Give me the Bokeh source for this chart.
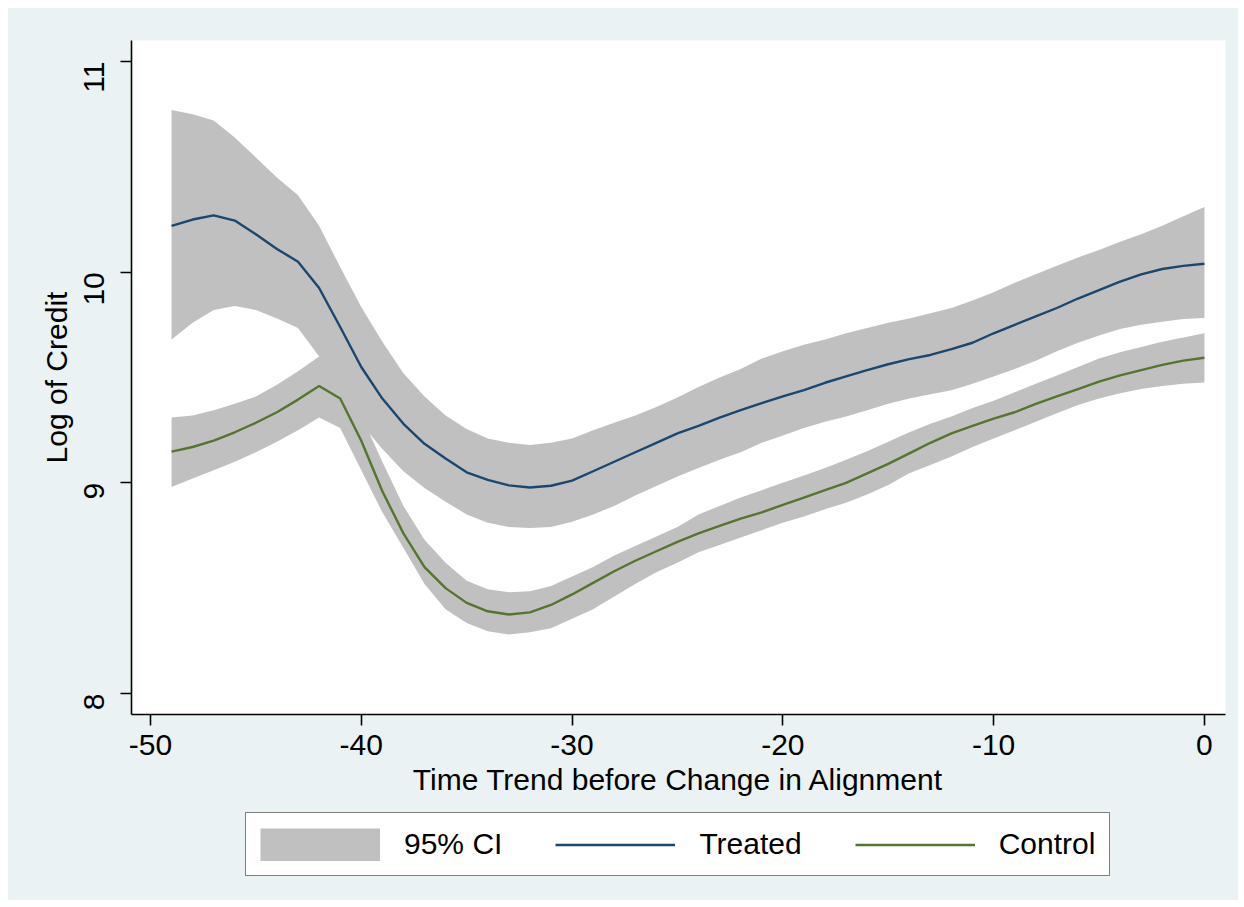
from bokeh.plotting import figure
from bokeh.models import Legend, LegendItem, FixedTicker, ColumnDataSource, Range1d
from bokeh.layouts import column
from bokeh.embed import file_html
from bokeh.resources import INLINE
import math

time = list(range(-49, 1))

treated = [10.22, 10.25, 10.27, 10.245, 10.18, 10.11, 10.05, 9.925, 9.74, 9.55,
           9.40, 9.28, 9.185, 9.115, 9.05, 9.014, 8.988, 8.978, 8.986, 9.01,
           9.055, 9.10, 9.145, 9.19, 9.235, 9.27, 9.31, 9.345, 9.378, 9.41,
           9.44, 9.475, 9.505, 9.535, 9.563, 9.587, 9.607, 9.635, 9.665, 9.71,
           9.75, 9.79, 9.83, 9.875, 9.915, 9.955, 9.99, 10.015, 10.03, 10.04]
treated_hi = [10.77, 10.75, 10.72, 10.64, 10.545, 10.45, 10.365, 10.22, 10.025, 9.835,
              9.67, 9.52, 9.41, 9.32, 9.255, 9.21, 9.19, 9.18, 9.19, 9.21,
              9.25, 9.285, 9.32, 9.36, 9.405, 9.455, 9.50, 9.54, 9.59, 9.625,
              9.655, 9.68, 9.71, 9.735, 9.76, 9.78, 9.805, 9.83, 9.865, 9.905,
              9.95, 9.99, 10.03, 10.07, 10.105, 10.145, 10.18, 10.22, 10.265, 10.31]
treated_lo = [9.68, 9.76, 9.82, 9.84, 9.82, 9.78, 9.735, 9.60, 9.44, 9.28,
              9.16, 9.055, 8.975, 8.91, 8.85, 8.81, 8.79, 8.785, 8.79, 8.815,
              8.85, 8.89, 8.94, 8.985, 9.03, 9.07, 9.11, 9.145, 9.19, 9.225,
              9.26, 9.29, 9.315, 9.345, 9.375, 9.40, 9.42, 9.44, 9.47, 9.505,
              9.54, 9.58, 9.625, 9.665, 9.70, 9.73, 9.75, 9.765, 9.778, 9.783]

control = [9.148, 9.17, 9.20, 9.24, 9.285, 9.335, 9.395, 9.46, 9.40, 9.20,
           8.96, 8.76, 8.60, 8.50, 8.43, 8.39, 8.375, 8.385, 8.42, 8.47,
           8.525, 8.58, 8.63, 8.675, 8.72, 8.76, 8.795, 8.83, 8.86, 8.895,
           8.93, 8.965, 9.00, 9.045, 9.09, 9.14, 9.19, 9.235, 9.27, 9.305,
           9.335, 9.375, 9.41, 9.445, 9.48, 9.51, 9.535, 9.56, 9.58, 9.594]
control_hi = [9.31, 9.32, 9.345, 9.375, 9.41, 9.465, 9.53, 9.60, 9.52, 9.32,
              9.10, 8.89, 8.73, 8.62, 8.535, 8.495, 8.48, 8.485, 8.51, 8.555,
              8.60, 8.655, 8.70, 8.745, 8.79, 8.85, 8.89, 8.93, 8.965, 9.00,
              9.035, 9.07, 9.11, 9.15, 9.195, 9.24, 9.28, 9.315, 9.355, 9.39,
              9.43, 9.47, 9.51, 9.55, 9.59, 9.62, 9.645, 9.67, 9.69, 9.71]
control_lo = [8.98, 9.02, 9.06, 9.10, 9.145, 9.195, 9.25, 9.31, 9.26, 9.06,
              8.86, 8.69, 8.52, 8.40, 8.335, 8.295, 8.28, 8.29, 8.31, 8.355,
              8.40, 8.46, 8.52, 8.575, 8.62, 8.67, 8.705, 8.74, 8.775, 8.81,
              8.84, 8.875, 8.905, 8.945, 8.99, 9.045, 9.085, 9.125, 9.17, 9.21,
              9.25, 9.29, 9.33, 9.37, 9.40, 9.425, 9.445, 9.46, 9.47, 9.476]

x_ticks = [-50, -40, -30, -20, -10, 0]
y_ticks = [8, 9, 10, 11]
legend_labels = ["95% CI", "Treated", "Control"]

src = ColumnDataSource(dict(t=time, tr=treated, trh=treated_hi, trl=treated_lo,
                            co=control, coh=control_hi, col=control_lo))

FONT = "Liberation Sans"
BG = "#EAF2F3"
NAVY = "#1A476F"
GREEN = "#55752F"
CI = "#C0C0C0"

# ---- main chart ----
p = figure(frame_width=1094, frame_height=674, output_backend="svg",
           toolbar_location=None,
           x_range=(-50.9, 1.0), y_range=(7.9, 11.1),
           min_border_left=123, min_border_right=13, min_border_top=32,
           min_border_bottom=92)
p.background_fill_color = "white"
p.border_fill_color = BG
p.outline_line_color = None
p.grid.visible = False

p.varea(x="t", y1="trl", y2="trh", source=src, fill_color=CI, fill_alpha=1.0)
p.varea(x="t", y1="col", y2="coh", source=src, fill_color=CI, fill_alpha=1.0)
p.line(x="t", y="tr", source=src, line_color=NAVY, line_width=2.4)
p.line(x="t", y="co", source=src, line_color=GREEN, line_width=2.4)

for ax in (p.xaxis[0], p.yaxis[0]):
    ax.axis_line_color = "black"
    ax.axis_line_width = 1.6
    ax.major_tick_line_color = "black"
    ax.major_tick_line_width = 1.6
    ax.major_tick_out = 11
    ax.major_tick_in = 0
    ax.minor_tick_line_color = None
    ax.major_label_text_font = FONT
    ax.major_label_text_font_size = "30px"
    ax.major_label_text_color = "black"
    ax.axis_label_text_font = FONT
    ax.axis_label_text_font_size = "30px"
    ax.axis_label_text_font_style = "normal"
    ax.axis_label_text_color = "black"

p.xaxis.ticker = FixedTicker(ticks=x_ticks)
p.xaxis.major_label_overrides = {t: str(t) for t in x_ticks}
p.yaxis.ticker = FixedTicker(ticks=y_ticks)
p.xaxis.axis_label = "Time Trend before Change in Alignment"
p.yaxis.axis_label = "Log of Credit"
p.xaxis.major_label_standoff = 9
p.xaxis.axis_label_standoff = 5
p.yaxis.major_label_orientation = math.pi / 2
p.yaxis.major_label_standoff = 27
p.yaxis.axis_label_standoff = -2

# ---- legend strip (same background, holds the legend) ----
pl = figure(width=1230, height=94, output_backend="svg", toolbar_location=None,
            x_axis_type=None, y_axis_type=None,
            x_range=Range1d(1000, 1001), y_range=Range1d(0, 1),
            min_border_left=0, min_border_right=0, min_border_top=0,
            min_border_bottom=0)
pl.background_fill_color = BG
pl.border_fill_color = BG
pl.outline_line_color = None
pl.grid.visible = False
# legend keys: CI band as a wide grey bar, series as thin lines
lb = pl.line(x="t", y="trh", source=src, line_color=CI, line_width=33, line_cap="butt")
lt = pl.line(x="t", y="tr", source=src, line_color=NAVY, line_width=2.4)
lc = pl.line(x="t", y="co", source=src, line_color=GREEN, line_width=2.4)

legend = Legend(items=[LegendItem(label=legend_labels[0], renderers=[lb]),
                       LegendItem(label=legend_labels[1], renderers=[lt]),
                       LegendItem(label=legend_labels[2], renderers=[lc])],
                orientation="horizontal", location=(114, 24), margin=0,
                padding=14, spacing=53, glyph_width=120, glyph_height=33,
                label_standoff=24, label_height=33,
                label_text_font=FONT, label_text_font_size="30px",
                label_text_color="black",
                border_line_color="black", border_line_width=1.5,
                background_fill_color="white", background_fill_alpha=1.0)
pl.add_layout(legend, "center")

layout = column(p, pl, spacing=0)
layout.margin = (8, 0, 0, 8)
layout.styles = {"background-color": BG}

open("out.html", "w").write(file_html(layout, INLINE))
